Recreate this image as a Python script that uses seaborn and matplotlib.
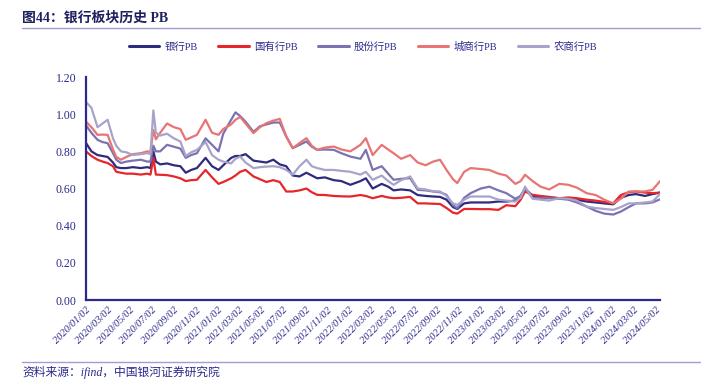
import matplotlib
matplotlib.use("Agg")
import matplotlib.pyplot as plt
import seaborn as sns
import pandas as pd

# --- data ---
DATES = [
    "2020-01-02", "2020-01-17", "2020-02-03", "2020-02-17", "2020-03-02", "2020-03-17",
    "2020-03-26", "2020-04-08", "2020-04-23", "2020-05-11", "2020-06-02", "2020-06-20",
    "2020-06-29", "2020-07-07", "2020-07-14", "2020-07-26", "2020-08-14", "2020-09-02",
    "2020-09-20", "2020-10-05", "2020-10-20", "2020-11-05", "2020-11-29", "2020-12-17",
    "2021-01-04", "2021-01-17", "2021-02-08", "2021-02-20", "2021-03-05", "2021-03-20",
    "2021-04-11", "2021-04-29", "2021-05-17", "2021-06-05", "2021-06-23", "2021-07-11",
    "2021-07-29", "2021-08-17", "2021-09-05", "2021-09-20", "2021-10-05", "2021-10-26",
    "2021-11-20", "2021-12-11", "2022-01-05", "2022-02-02", "2022-02-17", "2022-03-08",
    "2022-04-02", "2022-04-20", "2022-05-05", "2022-05-26", "2022-06-20", "2022-07-11",
    "2022-08-02", "2022-08-23", "2022-09-11", "2022-09-29", "2022-10-17", "2022-10-29",
    "2022-11-17", "2022-12-05", "2023-01-02", "2023-01-26", "2023-02-20", "2023-03-14",
    "2023-04-08", "2023-04-23", "2023-05-05", "2023-05-26", "2023-06-17", "2023-07-11",
    "2023-08-08", "2023-09-02", "2023-09-26", "2023-10-23", "2023-11-17", "2023-12-11",
    "2024-01-05", "2024-01-26", "2024-02-17", "2024-03-08", "2024-04-02", "2024-04-23",
    "2024-05-14",
]

BANK_PB = [
    0.845, 0.80, 0.78, 0.775, 0.77, 0.74, 0.715, 0.71, 0.71, 0.715, 0.71, 0.715,
    0.71, 0.80, 0.745, 0.73, 0.735, 0.725, 0.72, 0.685, 0.70, 0.71, 0.765, 0.72,
    0.70, 0.725, 0.765, 0.775, 0.775, 0.785, 0.75, 0.745, 0.74, 0.755, 0.73, 0.72,
    0.67, 0.665, 0.685, 0.67, 0.655, 0.66, 0.645, 0.64, 0.62, 0.64, 0.655, 0.60,
    0.625, 0.61, 0.59, 0.595, 0.59, 0.565, 0.56, 0.557, 0.555, 0.54, 0.50, 0.49,
    0.52, 0.525, 0.525, 0.525, 0.53, 0.53, 0.535, 0.56, 0.60, 0.56, 0.555, 0.55,
    0.548, 0.548, 0.54, 0.53, 0.525, 0.52, 0.515, 0.55, 0.565, 0.57, 0.56, 0.57,
    0.578,
]

STATE_PB = [
    0.80, 0.775, 0.755, 0.745, 0.737, 0.72, 0.69, 0.685, 0.68, 0.68, 0.675, 0.68,
    0.675, 0.765, 0.675, 0.674, 0.672, 0.665, 0.655, 0.64, 0.645, 0.647, 0.70, 0.66,
    0.625, 0.635, 0.655, 0.67, 0.69, 0.70, 0.665, 0.65, 0.635, 0.645, 0.635, 0.584,
    0.584, 0.59, 0.60, 0.58, 0.566, 0.565, 0.56, 0.558, 0.557, 0.565, 0.56, 0.548,
    0.56, 0.552, 0.548, 0.55, 0.555, 0.52, 0.52, 0.518, 0.517, 0.495, 0.47, 0.465,
    0.49, 0.49, 0.489, 0.489, 0.485, 0.51, 0.505, 0.54, 0.584, 0.566, 0.56, 0.555,
    0.548, 0.552, 0.548, 0.54, 0.535, 0.528, 0.52, 0.565, 0.58, 0.584, 0.578, 0.575,
    0.578,
]

JOINT_PB = [
    0.94, 0.90, 0.862, 0.85, 0.844, 0.79, 0.755, 0.737, 0.745, 0.75, 0.755, 0.745,
    0.745, 0.83, 0.80, 0.80, 0.835, 0.825, 0.815, 0.765, 0.78, 0.79, 0.87, 0.835,
    0.80, 0.895, 0.97, 1.01, 0.99, 0.96, 0.905, 0.935, 0.945, 0.955, 0.955, 0.88,
    0.817, 0.835, 0.853, 0.825, 0.808, 0.81, 0.808, 0.79, 0.772, 0.76, 0.808, 0.70,
    0.72, 0.68, 0.647, 0.652, 0.656, 0.593, 0.59, 0.584, 0.58, 0.566, 0.51, 0.494,
    0.55, 0.575, 0.60, 0.61, 0.59, 0.575, 0.545, 0.56, 0.60, 0.55, 0.548, 0.548,
    0.545, 0.54, 0.525, 0.503, 0.48, 0.465, 0.46, 0.476, 0.50, 0.52, 0.52, 0.525,
    0.542,
]

CITY_PB = [
    0.96, 0.93, 0.889, 0.89, 0.889, 0.81, 0.77, 0.755, 0.77, 0.785, 0.79, 0.80,
    0.795, 0.915, 0.865, 0.90, 0.95, 0.93, 0.92, 0.862, 0.875, 0.889, 0.97, 0.90,
    0.889, 0.92, 0.945, 0.97, 0.985, 0.95, 0.898, 0.93, 0.952, 0.965, 0.975, 0.88,
    0.817, 0.845, 0.871, 0.83, 0.808, 0.82, 0.826, 0.81, 0.80, 0.835, 0.871, 0.78,
    0.835, 0.81, 0.79, 0.76, 0.78, 0.74, 0.725, 0.745, 0.755, 0.70, 0.65, 0.629,
    0.69, 0.71, 0.705, 0.70, 0.68, 0.67, 0.625, 0.64, 0.674, 0.64, 0.61, 0.595,
    0.625, 0.62, 0.605, 0.575, 0.565, 0.54, 0.52, 0.545, 0.584, 0.584, 0.584, 0.593,
    0.64,
]

RURAL_PB = [
    1.065, 1.035, 0.93, 0.95, 0.97, 0.87, 0.83, 0.80, 0.795, 0.78, 0.785, 0.79,
    0.785, 1.02, 0.90, 0.885, 0.895, 0.87, 0.853, 0.775, 0.795, 0.808, 0.85, 0.78,
    0.755, 0.745, 0.735, 0.76, 0.772, 0.74, 0.71, 0.715, 0.718, 0.72, 0.715, 0.70,
    0.675, 0.72, 0.755, 0.72, 0.71, 0.70, 0.70, 0.695, 0.69, 0.675, 0.69, 0.647,
    0.67, 0.64, 0.62, 0.645, 0.665, 0.60, 0.595, 0.585, 0.584, 0.56, 0.52, 0.512,
    0.54, 0.557, 0.557, 0.557, 0.54, 0.535, 0.53, 0.55, 0.61, 0.545, 0.54, 0.535,
    0.548, 0.545, 0.535, 0.503, 0.495, 0.49, 0.485, 0.50, 0.52, 0.52, 0.525, 0.53,
    0.57,
]

SERIES_NAMES = ["银行PB", "国有行PB", "股份行PB", "城商行PB", "农商行PB"]
SERIES_COLORS = ["#2E2B7F", "#E5262B", "#7A73B2", "#E87473", "#A8A3CB"]

Y_TICKS = [0.0, 0.2, 0.4, 0.6, 0.8, 1.0, 1.2]
# x ticks every two months on the 2nd day
X_TICK_MONTHS = pd.date_range("2020-01-01", "2024-05-01", freq="2MS")

# --- style ---
NAVY = "#2B2A8C"
RULE = "#A19DD3"
FONT = ["Liberation Serif", "Noto Sans CJK SC"]


def build_frame():
    wide = pd.DataFrame({
        "date": pd.to_datetime(DATES),
        SERIES_NAMES[0]: BANK_PB,
        SERIES_NAMES[1]: STATE_PB,
        SERIES_NAMES[2]: JOINT_PB,
        SERIES_NAMES[3]: CITY_PB,
        SERIES_NAMES[4]: RURAL_PB,
    })
    return wide.melt(id_vars="date", var_name="series", value_name="pb")


def main():
    sns.set_style("white")
    plt.rcParams["font.family"] = FONT
    plt.rcParams["axes.unicode_minus"] = False

    df = build_frame()

    fig = plt.figure(figsize=(7.09, 3.91), dpi=100)
    ax = fig.add_axes([0.1213, 0.2327, 0.8097, 0.5703])

    sns.lineplot(data=df, x="date", y="pb", hue="series", hue_order=SERIES_NAMES,
                 palette=SERIES_COLORS, linewidth=1.6, ax=ax, legend=False)

    # axes limits / ticks
    ax.set_ylim(0, 1.2)
    ax.set_xlim(df["date"].min(), df["date"].max())
    ax.set_yticks(Y_TICKS)
    ax.set_yticklabels([f"{v:.2f}" for v in Y_TICKS], fontsize=8.5, color=NAVY)

    xt = X_TICK_MONTHS + pd.Timedelta(days=1)
    ax.set_xticks(xt)
    ax.set_xticklabels([d.strftime("%Y/%m/%d") for d in xt], rotation=45,
                       ha="right", rotation_mode="anchor", fontsize=7.5,
                       color=NAVY, style="italic")
    ax.tick_params(axis="x", direction="in", length=4, width=1, color=NAVY, pad=4)
    ax.tick_params(axis="y", direction="out", length=3, width=1, color=NAVY, pad=4)

    ax.set_xlabel("")
    ax.set_ylabel("")
    for side in ["top", "right"]:
        ax.spines[side].set_visible(False)
    for side in ["left", "bottom"]:
        ax.spines[side].set_color(NAVY)
        ax.spines[side].set_linewidth(1.6)
    ax.grid(False)

    # legend
    handles = [plt.Line2D([0], [0], color=c, lw=2.2) for c in SERIES_COLORS]
    fig.legend(handles, SERIES_NAMES, loc="center", bbox_to_anchor=(0.512, 0.88),
               ncol=5, frameon=False, fontsize=7.5, handlelength=2.9,
               columnspacing=2.0, handletextpad=0.5, labelcolor=NAVY)

    # title, rules, source
    fig.text(0.031, 0.953, "图44：银行板块历史 PB", fontsize=10, fontweight="bold",
             color="#1F2060", va="center", ha="left")
    fig.add_artist(plt.Line2D([0.031, 0.988], [0.928, 0.928], color=RULE, lw=1.0))
    fig.add_artist(plt.Line2D([0.031, 0.988], [0.074, 0.074], color=RULE, lw=1.0))
    fig.text(0.031, 0.047, "资料来源：ifind，中国银河证券研究院", fontsize=8.5,
             color=NAVY, style="italic", va="center", ha="left")

    fig.savefig("out.png", dpi=100)
    plt.close(fig)


if __name__ == "__main__":
    main()
